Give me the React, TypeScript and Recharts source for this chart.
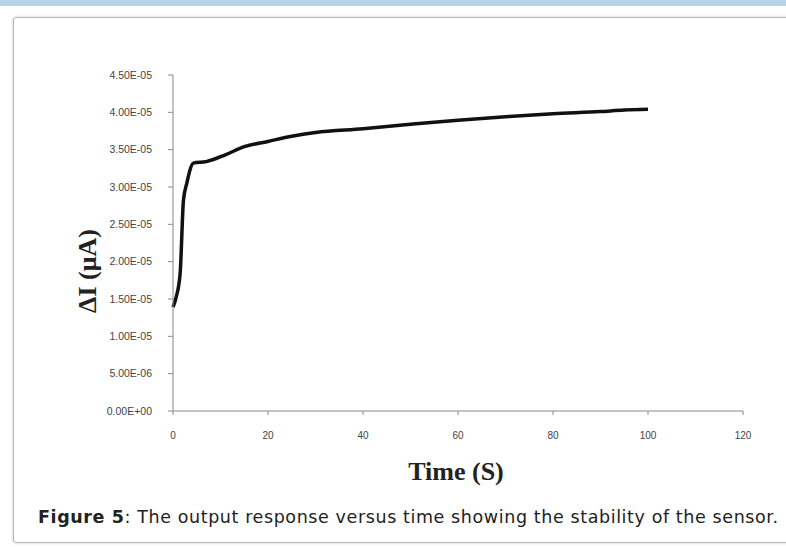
import React from 'react';
import { LineChart, Line, XAxis, YAxis } from 'recharts';

// time in seconds
const times = [0, 0.6, 1.5, 2.2, 2.9, 4.3, 7, 11, 15, 20, 25, 30, 40, 50, 60, 70, 80, 90, 95, 100];
// current change (A)
const currents = [
  1.39e-5, 1.51e-5, 1.84e-5, 2.82e-5, 3.05e-5, 3.32e-5, 3.34e-5, 3.43e-5, 3.54e-5, 3.61e-5,
  3.68e-5, 3.73e-5, 3.78e-5, 3.84e-5, 3.895e-5, 3.94e-5, 3.98e-5, 4.01e-5, 4.03e-5, 4.04e-5,
];
const xTicks = [0, 20, 40, 60, 80, 100, 120];
const yTicks = [0, 5e-6, 1e-5, 1.5e-5, 2e-5, 2.5e-5, 3e-5, 3.5e-5, 4e-5, 4.5e-5];

const data = times.map((t, i) => ({ t, di: currents[i] }));

const fmtExp = (v: number) => {
  const [m, e] = v.toExponential(2).split('e');
  const n = parseInt(e, 10);
  const sign = n < 0 ? '-' : '+';
  return `${m}E${sign}${String(Math.abs(n)).padStart(2, '0')}`;
};

export default function App() {
  return (
    <div style={{ position: 'fixed', left: 0, top: 0, width: 786, height: 547, background: '#fff', overflow: 'hidden' }}>
      <div style={{ position: 'absolute', left: 0, top: 0, width: 786, height: 6, background: '#b8d4ec' }} />
      <div
        style={{
          position: 'absolute',
          left: 13,
          top: 17,
          width: 800,
          height: 524,
          border: '1px solid #b5b5b5',
          borderRadius: 3,
          boxShadow: '0 0 3px #ccc',
        }}
      />
      <div style={{ position: 'absolute', left: 0, top: 0 }}>
        <LineChart width={786} height={547} data={data} margin={{ top: 75, right: 43, bottom: 106, left: 20 }}>
          <XAxis
            dataKey="t"
            type="number"
            domain={[0, 120]}
            ticks={xTicks}
            height={30}
            stroke="#888"
            tickSize={4}
            tick={{ fontSize: 10, fill: '#444', fontFamily: 'Liberation Sans' }}
            tickMargin={17}
          />
          <YAxis
            type="number"
            domain={[0, 4.5e-5]}
            ticks={yTicks}
            width={153}
            stroke="#888"
            tickSize={5}
            tickFormatter={fmtExp}
            tick={{ fontSize: 10.5, fill: '#444', fontFamily: 'Liberation Sans' }}
            tickMargin={16}
          />
          <Line
            type="monotone"
            dataKey="di"
            stroke="#111"
            strokeWidth={3.5}
            dot={false}
            isAnimationActive={false}
          />
        </LineChart>
      </div>
      <div
        style={{
          position: 'absolute',
          left: 88,
          top: 271,
          transform: 'translate(-50%, -50%) rotate(-90deg)',
          fontFamily: 'Liberation Serif',
          fontWeight: 'bold',
          fontSize: 26,
          whiteSpace: 'nowrap',
          color: '#222',
        }}
      >
        ΔI (μA)
      </div>
      <div
        style={{
          position: 'absolute',
          left: 456,
          top: 472,
          transform: 'translate(-50%, -50%)',
          fontFamily: 'Liberation Serif',
          fontWeight: 'bold',
          fontSize: 26,
          whiteSpace: 'nowrap',
          color: '#222',
        }}
      >
        Time (S)
      </div>
      <div
        style={{
          position: 'absolute',
          left: 38,
          top: 507,
          fontFamily: 'DejaVu Sans',
          fontSize: 17.5,
          letterSpacing: 0.6,
          whiteSpace: 'nowrap',
          color: '#222',
        }}
      >
        <b>Figure 5</b>: The output response versus time showing the stability of the sensor.
      </div>
    </div>
  );
}
